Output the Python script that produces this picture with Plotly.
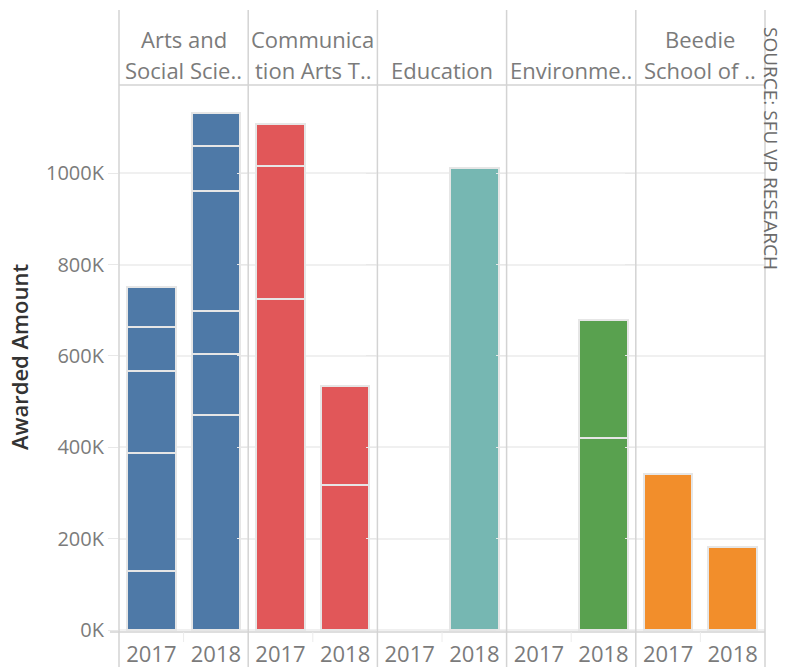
import plotly.graph_objects as go
from plotly.subplots import make_subplots

# ---- data (values in thousands of dollars) ----
years = ["2017", "2018"]
header_line1 = ["Arts and", "Communica", "", "", "Beedie"]
header_line2 = ["Social Scie..", "tion Arts T..", "Education", "Environme..", "School of .."]
colors = ["#4E79A7", "#E15759", "#76B7B2", "#59A14F", "#F28E2B"]

arts_2017 = [129, 258, 180, 96, 88]
arts_2018 = [471, 133, 94, 263, 99, 72]
comm_2017 = [724, 291, 92]
comm_2018 = [317, 217]
edu_2017 = []
edu_2018 = [1011]
env_2017 = []
env_2018 = [420, 258]
bus_2017 = [341]
bus_2018 = [182]

tick_vals = [0, 200, 400, 600, 800, 1000]
tick_text = ["0K", "200K", "400K", "600K", "800K", "1000K"]

segments = [
    (arts_2017, arts_2018),
    (comm_2017, comm_2018),
    (edu_2017, edu_2018),
    (env_2017, env_2018),
    (bus_2017, bus_2018),
]

FONT = "Open Sans"
GRAY = "#7b7b7b"
LINE = "#d3d3d3"

PLOT_H = 547
PLOT_W = 646

fig = make_subplots(rows=1, cols=5, shared_yaxes=True, horizontal_spacing=0)

for i, (s17, s18) in enumerate(segments):
    for yr, segs in zip(years, (s17, s18)):
        for v in segs:
            fig.add_trace(
                go.Bar(
                    x=[yr], y=[v * 1000],
                    marker=dict(color=colors[i], line=dict(color="#e6e6e6", width=2)),
                    showlegend=False, hoverinfo="y",
                ),
                row=1, col=i + 1,
            )
    fig.update_xaxes(
        type="category", categoryorder="array", categoryarray=years,
        range=[-0.5, 1.5], showgrid=False, zeroline=False, ticks="",
        tickfont=dict(family=FONT, size=22, color=GRAY),
        ticklabelstandoff=7, automargin=False,
        showline=False, fixedrange=True,
        row=1, col=i + 1,
    )

fig.update_yaxes(
    range=[-4000, 1193000], tickvals=[v * 1000 for v in tick_vals], ticktext=tick_text,
    showgrid=True, gridcolor="#f0f0f0", gridwidth=1.5, zeroline=False,
    ticks="outside", ticklen=10, tickcolor="#e8e8e8",
    tickfont=dict(family=FONT, size=20, color=GRAY),
    showline=False, automargin=False, fixedrange=True,
)

shapes = []
top_y = 1 + 75 / PLOT_H
bot_y = -35 / PLOT_H
n = 5
for k in range(n + 1):
    shapes.append(dict(type="line", xref="paper", yref="paper",
                       x0=k / n, x1=k / n, y0=top_y, y1=bot_y,
                       line=dict(color=LINE, width=1.5)))
shapes.append(dict(type="line", xref="paper", yref="paper", x0=0, x1=1, y0=1, y1=1,
                   line=dict(color=LINE, width=1.5)))
shapes.append(dict(type="line", xref="paper", yref="paper", x0=-0.014, x1=1, y0=0, y1=0,
                   line=dict(color=LINE, width=1.5)))
for k in range(n):
    shapes.append(dict(type="line", xref="paper", yref="paper",
                       x0=(k + 0.5) / n, x1=(k + 0.5) / n, y0=0, y1=-10 / PLOT_H,
                       line=dict(color="#ececec", width=1)))

annotations = []
for k in range(n):
    xc = (k + 0.5) / n
    if header_line1[k]:
        annotations.append(dict(text=header_line1[k], xref="paper", yref="paper",
                                x=xc, y=1 + (85 - 39) / PLOT_H, showarrow=False,
                                xanchor="center", yanchor="middle",
                                font=dict(family=FONT, size=22, color=GRAY)))
    annotations.append(dict(text=header_line2[k], xref="paper", yref="paper",
                            x=xc, y=1 + (85 - 70) / PLOT_H, showarrow=False,
                            xanchor="center", yanchor="middle",
                            font=dict(family=FONT, size=22, color=GRAY)))

annotations.append(dict(text="Awarded Amount", xref="paper", yref="paper",
                        x=(19 - 119) / PLOT_W, y=(632 - 357) / PLOT_H, textangle=-90,
                        showarrow=False, xanchor="center", yanchor="middle",
                        font=dict(family=FONT, size=22, color="#333333", weight=600)))
annotations.append(dict(text="SOURCE: SFU VP RESEARCH", xref="paper", yref="paper",
                        x=(786 - 119) / PLOT_W, y=(632 - 148) / PLOT_H, textangle=90,
                        showarrow=False, xanchor="right", yanchor="middle",
                        font=dict(family=FONT, size=19, color="#6b6b6b")))

fig.update_layout(
    width=786, height=667,
    margin=dict(l=119, r=21, t=85, b=35),
    barmode="stack", bargap=0.25,
    plot_bgcolor="white", paper_bgcolor="white",
    shapes=shapes, annotations=annotations,
    font=dict(family=FONT),
)

fig.write_html(
    "out.html",
    config={"displayModeBar": False},
    post_script="document.body.style.margin='0';document.body.style.overflow='hidden';",
)
